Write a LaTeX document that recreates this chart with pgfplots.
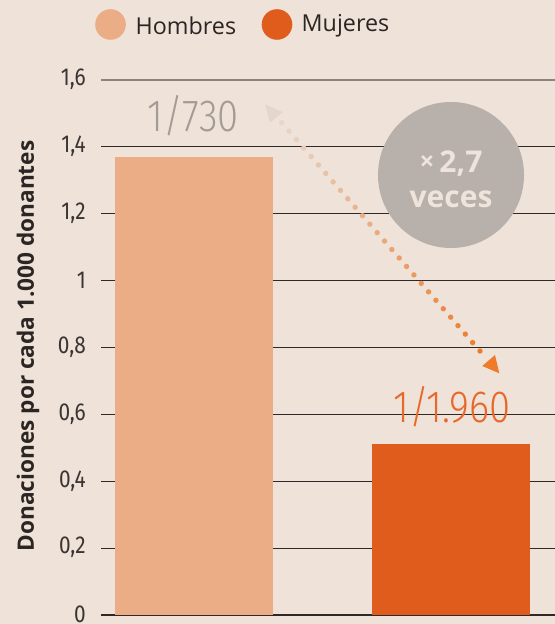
\documentclass[border=0pt]{standalone}
\usepackage{pgfplots}
\pgfplotsset{compat=1.18}
\usepackage{fontspec}
\setmainfont{Open Sans}
\newfontfamily\din{Fira Sans}[FakeStretch=0.85]
\newfontfamily\dinlight{Fira Sans}[UprightFont={* Light},FakeStretch=0.85]
\definecolor{bgc}{HTML}{EEE2D9}
\definecolor{hom}{HTML}{EAAD86}
\definecolor{muj}{HTML}{E05C1D}
\definecolor{circ}{HTML}{B8B0AA}
\definecolor{gridc}{HTML}{2E2926}
\definecolor{topgrid}{HTML}{8A837E}
\definecolor{txt}{HTML}{2B2523}
\definecolor{ticktxt}{HTML}{3A3432}
\definecolor{lblgray}{HTML}{A39B95}
\definecolor{lblor}{HTML}{E8682A}
\definecolor{arrS}{HTML}{E6D6CB}
\definecolor{arrE}{HTML}{EE7A2A}
\definecolor{circtxt}{HTML}{EFE4DB}
\begin{document}
\begin{tikzpicture}[x=1bp,y=1bp]
\fill[bgc] (0,0) rectangle (555,624);
\useasboundingbox (0,0) rectangle (555,624);
\begin{axis}[
  at={(101bp,9bp)}, anchor=south west,
  scale only axis, width=454bp, height=535bp,
  xmin=101, xmax=555, ymin=0, ymax=1.6,
  axis line style={draw=none},
  xtick=\empty,
  ytick={0,0.2,0.4,0.6,0.8,1,1.2,1.4,1.6},
  major tick length=0pt,
  ymajorgrids,
  grid style={line width=1.2bp, color=gridc},
  /pgf/number format/assume math mode=true,
  yticklabel={\pgfmathprintnumber[fixed,use comma,precision=1]{\tick}},
  yticklabel style={font=\din\fontsize{24.5bp}{26bp}\selectfont, text=ticktxt, anchor=east, inner sep=0pt, xshift=-15bp, yshift=0.5bp},
  clip=false,
  ybar, bar width=158, bar shift=0pt,
]
\addplot[fill=hom, draw=none] coordinates {(194,1.37)};
\addplot[fill=muj, draw=none] coordinates {(451,0.51)};
\draw[topgrid, line width=1.2bp] (axis cs:101,1.6) -- (axis cs:555,1.6);
\end{axis}
% legend
\fill[hom] (110.5,599.5) circle (15.3);
\node[anchor=west, inner sep=0pt, text=txt, font=\fontsize{23.3bp}{26bp}\selectfont] at (135.5,598) {Hombres};
\fill[muj] (277,599.5) circle (15.3);
\node[anchor=west, inner sep=0pt, text=txt, font=\fontsize{23.3bp}{26bp}\selectfont] at (301.5,598) {Mujeres};
% y label
\node[rotate=90, inner sep=0pt, text=txt, font=\bfseries\fontsize{22.6bp}{24bp}\selectfont] at (28,278) {Donaciones por cada 1.000 donantes};
% value labels
\node[inner sep=0pt, text=lblgray, font=\dinlight\fontsize{45bp}{48bp}\selectfont] at (193,508.5) {1/730};
\node[inner sep=0pt, text=lblor, font=\dinlight\fontsize{45bp}{48bp}\selectfont] at (452,217) {1/1.960};
% circle
\fill[circ] (451,449) circle (73);
\node[anchor=base, inner sep=0pt, text=circtxt, font=\bfseries\fontsize{30bp}{32bp}\selectfont] at (451,451) {\raisebox{2bp}{\fontsize{26bp}{28bp}\selectfont ×}\hspace{5bp}2,7};
\node[anchor=base, inner sep=0pt, text=circtxt, font=\bfseries\fontsize{30bp}{32bp}\selectfont] at (451,416) {veces};
% dotted arrow
\foreach \i in {0,...,27} {
  \pgfmathtruncatemacro\t{100*\i/27}
  \pgfmathsetmacro\xx{281.7+\i*7.344}
  \pgfmathsetmacro\yy{501.3-\i*8.456}
  \fill[arrE!\t!arrS] (\xx,\yy) circle (2.7);
}
\fill[arrS!90!gray!60!bgc] (265,519.7) -- (282.7,511.7) -- (270,501.3) -- cycle;
\fill[arrE] (495,269) -- (499.3,250.7) -- (482.3,258) -- cycle;
\end{tikzpicture}
\end{document}
